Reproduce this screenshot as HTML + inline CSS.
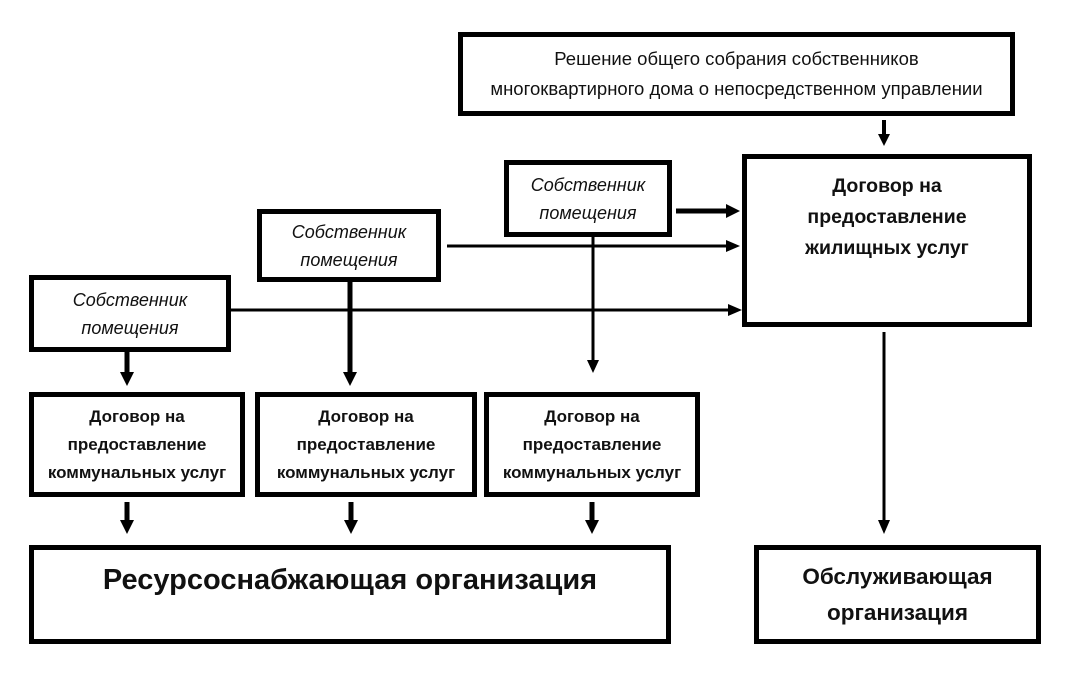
<!DOCTYPE html>
<html><head><meta charset="utf-8"><style>
body{margin:0;background:#fff;width:1071px;height:686px;position:relative;overflow:hidden;font-family:"Liberation Sans",sans-serif;}
.b{position:absolute;box-sizing:border-box;border:5px solid #000;display:flex;align-items:center;justify-content:center;text-align:center;color:#111;white-space:nowrap;}
.i{font-style:italic;font-size:18px;line-height:28px;}
.k{font-weight:bold;font-size:17px;line-height:28px;}
svg{position:absolute;left:0;top:0;}
</style></head><body>
<div class="b" style="left:458px;top:32px;width:557px;height:84px;font-size:18.5px;line-height:30px;">Решение общего собрания собственников<br>многоквартирного дома о непосредственном управлении</div>
<div class="b k" style="left:742px;top:154px;width:290px;height:173px;align-items:flex-start;padding-top:12px;font-size:19.5px;line-height:31px;">Договор на<br>предоставление<br>жилищных услуг</div>
<div class="b i" style="left:504px;top:160px;width:168px;height:77px;">Собственник<br>помещения</div>
<div class="b i" style="left:257px;top:209px;width:184px;height:73px;">Собственник<br>помещения</div>
<div class="b i" style="left:29px;top:275px;width:202px;height:77px;">Собственник<br>помещения</div>
<div class="b k" style="left:29px;top:392px;width:216px;height:105px;">Договор на<br>предоставление<br>коммунальных услуг</div>
<div class="b k" style="left:255px;top:392px;width:222px;height:105px;">Договор на<br>предоставление<br>коммунальных услуг</div>
<div class="b k" style="left:484px;top:392px;width:216px;height:105px;">Договор на<br>предоставление<br>коммунальных услуг</div>
<div class="b" style="left:29px;top:545px;width:642px;height:99px;font-weight:bold;font-size:29px;align-items:flex-start;padding-top:14px;">Ресурсоснабжающая организация</div>
<div class="b" style="left:754px;top:545px;width:287px;height:99px;font-weight:bold;font-size:22.5px;line-height:36px;">Обслуживающая<br>организация</div>
<svg width="1071" height="686">
<g fill="#000" stroke="#000">
<line x1="884" y1="120" x2="884" y2="136" stroke-width="4"/><polygon points="878,134 890,134 884,146" stroke="none"/>
<line x1="676" y1="211" x2="728" y2="211" stroke-width="5"/><polygon points="726,204 726,218 740,211" stroke="none"/>
<line x1="447" y1="246" x2="728" y2="246" stroke-width="3"/><polygon points="726,240 726,252 740,246" stroke="none"/>
<line x1="231" y1="310" x2="730" y2="310" stroke-width="3"/><polygon points="728,304 728,316 742,310" stroke="none"/>
<line x1="350" y1="282" x2="350" y2="374" stroke-width="5"/><polygon points="343,372 357,372 350,386" stroke="none"/>
<line x1="593" y1="237" x2="593" y2="362" stroke-width="3"/><polygon points="587,360 599,360 593,373" stroke="none"/>
<line x1="127" y1="352" x2="127" y2="374" stroke-width="5"/><polygon points="120,372 134,372 127,386" stroke="none"/>
<line x1="884" y1="332" x2="884" y2="522" stroke-width="3"/><polygon points="878,520 890,520 884,534" stroke="none"/>
<line x1="127" y1="502" x2="127" y2="522" stroke-width="5"/><polygon points="120,520 134,520 127,534" stroke="none"/>
<line x1="351" y1="502" x2="351" y2="522" stroke-width="5"/><polygon points="344,520 358,520 351,534" stroke="none"/>
<line x1="592" y1="502" x2="592" y2="522" stroke-width="5"/><polygon points="585,520 599,520 592,534" stroke="none"/>
</g></svg>
</body></html>
